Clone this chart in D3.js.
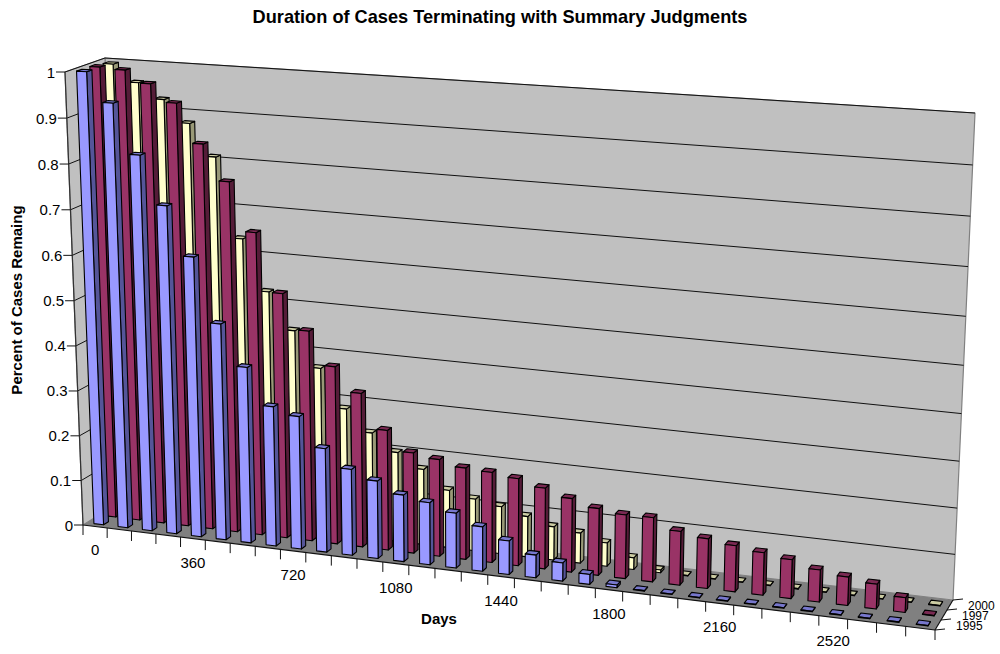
<!DOCTYPE html>
<html><head><meta charset="utf-8">
<script src="https://cdn.jsdelivr.net/npm/d3@7/dist/d3.min.js"></script>
<style>html,body{margin:0;padding:0;background:#fff}svg{display:block}text{font-family:"Liberation Sans",Arial,sans-serif;fill:#000}</style>
</head><body><svg id="c" width="1000" height="654"></svg>
<script>
const categories=[0,90,180,270,360,450,540,630,720,810,900,990,1080,1170,1260,1350,1440,1530,1620,1710,1800,1890,1980,2070,2160,2250,2340,2430,2520,2610,2700,2790];
const dayLabels=[0,360,720,1080,1440,1800,2160,2520];
const valueTicks=[0,0.1,0.2,0.3,0.4,0.5,0.6,0.7,0.8,0.9,1];
const seriesNames=[1995,1997,2000];
const v1995=[1,.936,.828,.723,.617,.477,.388,.308,.293,.229,.19,.171,.147,.137,.121,.098,.074,.05,.04,.022,.006,.001,.001,.001,.001,.001,.001,.001,.001,.001,.001,.001];
const v1997=[1,.997,.971,.933,.849,.772,.667,.54,.464,.392,.34,.265,.222,.214,.202,.199,.192,.178,.162,.147,.14,.141,.118,.109,.101,.093,.085,.07,.062,.054,.032,.001];
const v2000=[.996,.959,.926,.878,.809,.635,.524,.444,.367,.283,.236,.199,.168,.128,.115,.105,.09,.074,.067,.052,.026,.006,.001,.001,.001,.001,.001,.001,.001,.001,.001,.001];
const seriesValues={1995:v1995,1997:v1997,2000:v2000};
const seriesColors={1995:["#9999FF","#555599","#7777CC"],1997:["#993366","#551C38","#7A2952"],2000:["#FFFFCC","#999977","#CCCCA3"]};

// Box corners on the page: [x,y] for front/back, bottom/top, left/right
const box={
 fbl:[83,525],fbr:[935,630],bbl:[120,502],bbr:[953,600],
 ftl:[65,72],ftr:[955,133],btl:[105,58],btr:[975,113]};
const warp=(t,k)=>t/(t+k*(1-t));
const lerp=(a,b,t)=>a+(b-a)*t;
function project(u,v,z){
  const U=warp(u,1.105),V=warp(v,1.02+0.055*u),Z=z;
  const f=i=>{
    const fb=lerp(box.fbl[i],box.fbr[i],U),ft=lerp(box.ftl[i],box.ftr[i],U);
    const bb=lerp(box.bbl[i],box.bbr[i],U),bt=lerp(box.btl[i],box.btr[i],U);
    return lerp(lerp(fb,ft,V),lerp(bb,bt,V),Z);
  };
  return [f(0),f(1)];
}
const uScale=d3.scaleBand().domain(categories).range([0,1]).paddingInner(.6).paddingOuter(.3);
const zScale=d3.scaleBand().domain(seriesNames).range([0,1]).paddingInner(.6).paddingOuter(.3);
const vScale=d3.scaleLinear().domain([0,1]).range([0,1]);
const uEdge=d3.scaleLinear().domain([0,categories.length]).range([0,1]);

const svg=d3.select("#c");
const poly=(pts,fill,stroke,w)=>svg.append("path").attr("d","M"+pts.map(p=>p.map(n=>n.toFixed(2)).join(",")).join("L")+"Z").attr("fill",fill).attr("stroke",stroke||"none").attr("stroke-width",w||0).attr("stroke-linejoin","round");
const line=(a,b,stroke,w)=>svg.append("line").attr("x1",a[0]).attr("y1",a[1]).attr("x2",b[0]).attr("y2",b[1]).attr("stroke",stroke).attr("stroke-width",w);

// walls and floor
poly([project(0,0,1),project(1,0,1),project(1,1,1),project(0,1,1)],"#C0C0C0","#808080",1.2);
poly([project(0,0,0),project(0,0,1),project(0,1,1),project(0,1,0)],"#C0C0C0","#808080",1.2);
poly([project(0,0,0),project(1,0,0),project(1,0,1),project(0,0,1)],"#808080");
valueTicks.filter(d=>d>0).forEach(d=>{
  const v=vScale(d);
  line(project(0,v,0),project(0,v,1),"#111",1);
  line(project(0,v,1),project(1,v,1),"#111",1);
});

// bars
[2000,1997,1995].forEach(s=>{
  const [front,side,top]=seriesColors[s];
  const z0=zScale(s),z1=z0+zScale.bandwidth();
  categories.forEach((c,i)=>{
    const u0=uScale(c),u1=u0+uScale.bandwidth(),v=vScale(seriesValues[s][i]);
    poly([project(u1,0,z0),project(u1,0,z1),project(u1,v,z1),project(u1,v,z0)],side,"#000",1.1);
    poly([project(u0,v,z0),project(u1,v,z0),project(u1,v,z1),project(u0,v,z1)],top,"#000",1.1);
    poly([project(u0,0,z0),project(u1,0,z0),project(u1,v,z0),project(u0,v,z0)],front,"#000",1.1);
  });
});

// axes
line(project(0,0,0),project(1,0,0),"#111",1.2);
line(project(1,0,0),project(1,0,1),"#111",1.2);
line(project(0,0,0),project(0,1,0),"#333",1.2);
valueTicks.forEach(d=>{
  const p=project(0,vScale(d),0);
  line([p[0]-9,p[1]],p,"#111",1);
  svg.append("text").attr("x",p[0]-10).attr("y",p[1]+5.5).attr("text-anchor","end").attr("font-size",15).text(d);
});
d3.range(categories.length+1).forEach(i=>{
  const p=project(uEdge(i),0,0);
  line(p,[p[0],p[1]+10],"#111",1);
});
dayLabels.forEach(d=>{
  const p=project(uScale(d)+uScale.bandwidth()/2,0,0);
  svg.append("text").attr("x",p[0]).attr("y",p[1]+29).attr("text-anchor","middle").attr("font-size",15).text(d);
});
seriesNames.forEach(s=>{
  const zc=zScale(s)+zScale.bandwidth()/2;
  const p=project(1,0,zc);
  svg.append("text").attr("x",p[0]+18).attr("y",p[1]+5).attr("font-size",12).text(s);
});
[0,1/3,2/3,1].forEach(z=>{
  const p=project(1,0,z);
  line(p,[p[0]+10,p[1]-1],"#111",1);
});

// titles
svg.append("text").attr("x",500).attr("y",23).attr("text-anchor","middle").attr("font-weight","bold").attr("font-size",18.2).text("Duration of Cases Terminating with Summary Judgments");
svg.append("text").attr("x",439).attr("y",624).attr("text-anchor","middle").attr("font-weight","bold").attr("font-size",15).text("Days");
svg.append("text").attr("transform","translate(22,300) rotate(-90)").attr("text-anchor","middle").attr("font-weight","bold").attr("font-size",15).text("Percent of Cases Remaing");
</script></body></html>
